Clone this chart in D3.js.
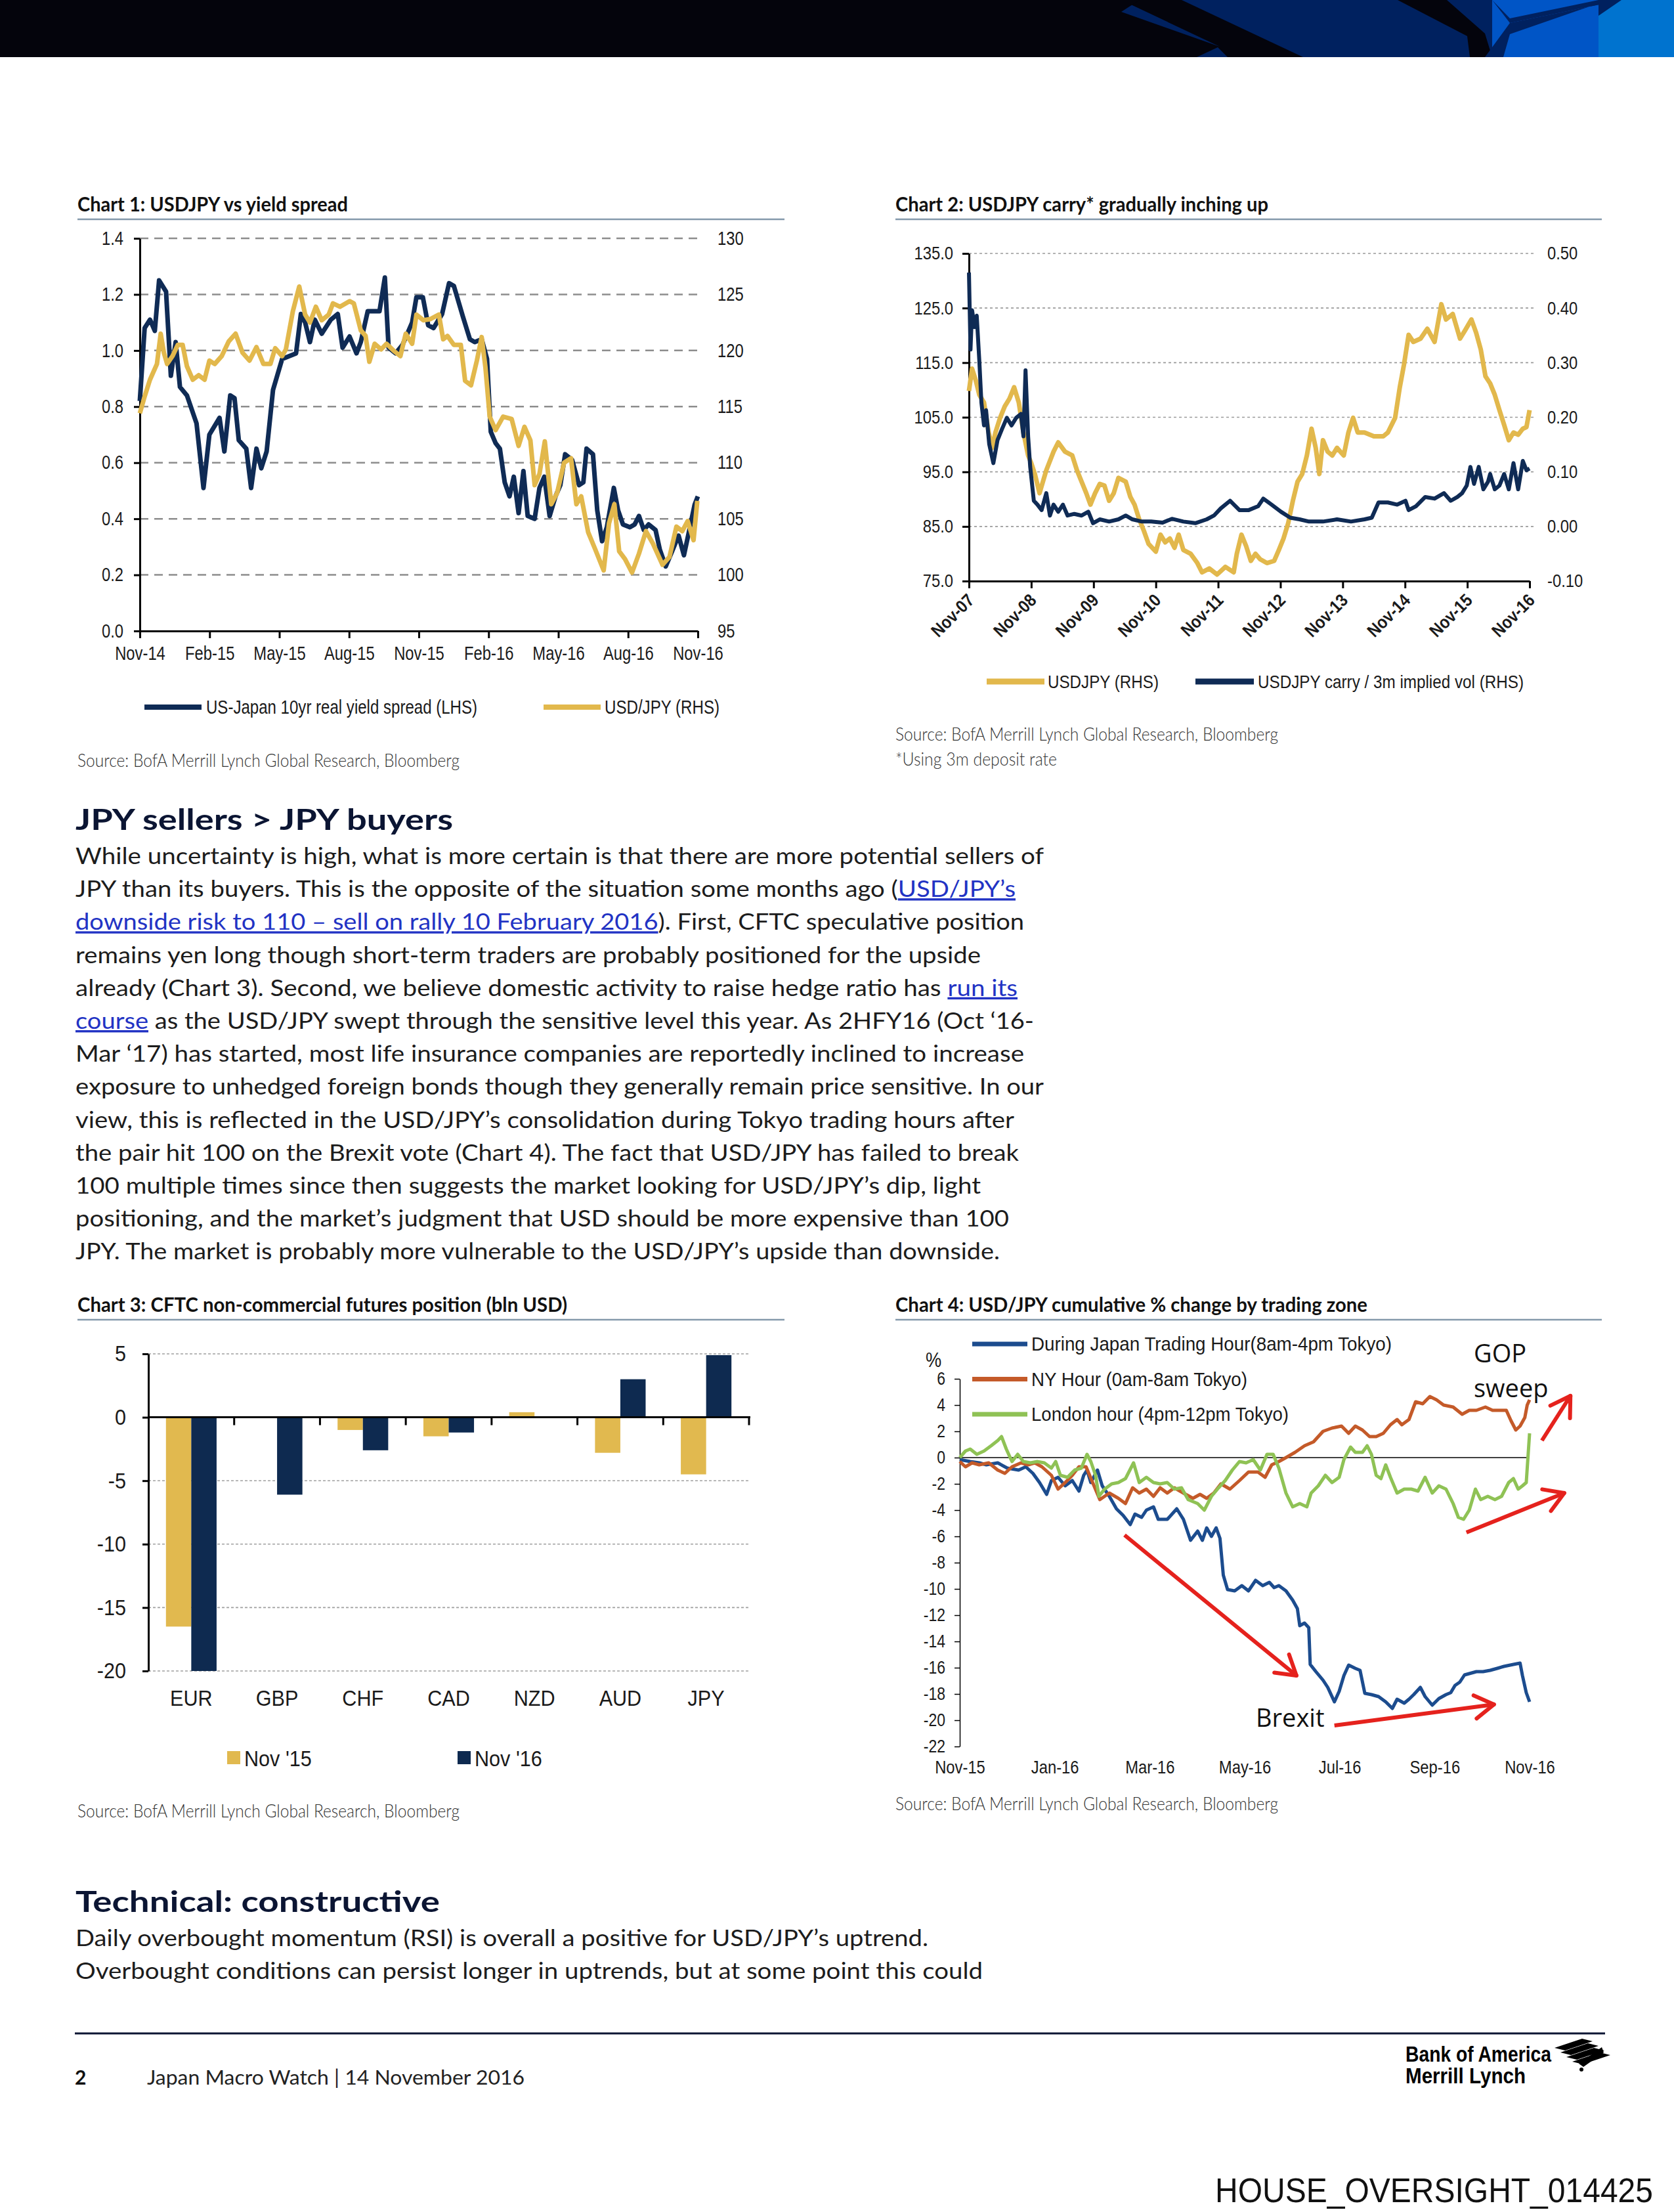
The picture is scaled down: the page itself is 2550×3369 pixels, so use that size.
<!DOCTYPE html>
<html><head><meta charset="utf-8">
<script src="https://cdn.jsdelivr.net/npm/d3@7"></script>
<style>body{margin:0;background:#fff}svg{display:block}</style>
</head><body>
<svg id="page" width="2550" height="3369"></svg>
<script>
// ---------------- DATA ----------------
// Chart 1 (weeks since Nov-14)
const c1XLabels = ["Nov-14","Feb-15","May-15","Aug-15","Nov-15","Feb-16","May-16","Aug-16","Nov-16"];
const c1LeftTicks = [0,0.2,0.4,0.6,0.8,1.0,1.2,1.4];
const c1LeftLabels = ["0.0","0.2","0.4","0.6","0.8","1.0","1.2","1.4"];
const c1RightTicks = [95,100,105,110,115,120,125,130];
const c1SpreadWeeks = [0,0.9,1.9,2.8,3.6,4.9,5.8,6.7,7.5,8.8,10.6,11.9,13.0,14.9,15.8,16.9,17.7,18.5,19.9,20.8,21.8,22.7,23.7,24.9,26.6,27.9,29.2,30.1,30.9,31.8,32.7,34.0,35.7,37.0,37.9,39.2,40.5,41.3,42.6,44.8,45.8,46.5,47.8,49.1,50.9,51.7,52.9,53.9,54.9,56.5,57.8,58.7,60.4,61.7,62.6,63.9,64.9,65.6,66.5,67.3,68.2,69.1,69.9,70.8,71.7,72.5,73.8,74.7,75.6,76.6,77.7,78.6,79.5,80.8,82.1,82.9,83.5,84.7,85.5,86.4,87.3,88.6,89.4,90.3,91.6,92.5,93.3,94.2,95.1,96.4,97.2,98.3,99.4,100.7,101.7,102.6,103.7,104.3];
const c1Spread = [0.82,1.08,1.11,1.07,1.25,1.21,0.91,1.03,0.87,0.84,0.74,0.51,0.70,0.76,0.64,0.84,0.83,0.68,0.65,0.51,0.65,0.58,0.64,0.86,0.97,0.98,0.99,1.13,1.10,1.03,1.11,1.06,1.11,1.13,1.01,1.05,0.99,1.03,1.14,1.14,1.26,1.01,0.99,1.02,1.10,1.19,1.19,1.09,1.08,1.13,1.24,1.23,1.12,1.04,1.03,1.04,0.97,0.71,0.67,0.65,0.53,0.48,0.55,0.42,0.57,0.41,0.40,0.51,0.55,0.41,0.48,0.52,0.63,0.61,0.52,0.53,0.65,0.63,0.43,0.32,0.37,0.51,0.43,0.38,0.37,0.38,0.41,0.36,0.38,0.36,0.29,0.23,0.28,0.34,0.27,0.35,0.45,0.48];
const c1FxWeeks = [0,0.9,1.9,3.2,3.9,4.5,5.1,6.1,7.1,8.0,8.8,9.9,11.0,12.1,13.0,14.0,15.3,16.6,17.9,19.2,20.5,21.8,23.1,24.4,25.3,26.6,27.3,28.6,29.8,30.9,31.8,32.9,34.0,35.3,36.1,37.4,39.2,40.0,41.3,42.2,42.9,43.9,45.1,46.1,47.4,48.7,49.7,50.9,51.7,53.0,54.3,55.9,56.7,57.5,58.7,60.0,60.8,61.9,63.0,63.9,64.6,65.4,66.5,67.9,69.5,70.8,71.9,73.0,73.8,74.7,75.7,76.9,78.0,79.3,80.6,81.6,82.5,83.8,85.1,86.7,87.7,88.7,89.6,90.7,92.0,93.3,94.6,95.9,97.7,99.0,100.3,101.4,102.4,103.5,104.2];
const c1Fx = [114.4,115.9,117.4,118.8,121.5,119.8,118.8,119.5,120.5,120.5,118.6,117.4,117.8,117.4,119.1,118.8,119.5,120.8,121.5,119.8,119.1,120.3,118.8,118.8,120.2,119.5,120.1,123.5,125.7,123.2,122.5,123.9,122.7,123.2,124.2,123.9,124.4,124.2,121.8,121.3,119.0,120.6,120.1,120.6,120.0,119.5,121.5,120.6,123.2,122.7,122.8,123.2,121.0,121.3,120.5,120.5,117.3,116.9,119.1,121.2,118.5,114.1,112.9,114.1,113.9,111.5,113.2,112.0,108.0,109.0,111.9,106.3,107.3,110.0,110.4,106.3,107.0,103.8,102.3,100.4,104.6,106.3,102.1,101.4,100.2,101.9,103.9,102.8,100.9,101.6,104.3,103.9,104.8,103.1,106.6];

// Chart 2 (months since Nov-07)
const c2XLabels = ["Nov-07","Nov-08","Nov-09","Nov-10","Nov-11","Nov-12","Nov-13","Nov-14","Nov-15","Nov-16"];
const c2LeftTicks = [75,85,95,105,115,125,135];
const c2LeftLabels = ["75.0","85.0","95.0","105.0","115.0","125.0","135.0"];
const c2RightTicks = [-0.1,0,0.1,0.2,0.3,0.4,0.5];
const c2RightLabels = ["-0.10","0.00","0.10","0.20","0.30","0.40","0.50"];
const c2FxMonths = [0,0.6,1.3,2.0,2.9,3.8,4.5,5.1,6.0,6.9,7.8,8.7,9.6,10.5,11.4,12.0,12.7,13.6,14.9,16.3,17.2,18.5,19.9,20.8,21.7,22.6,23.4,24.3,25.2,26.1,27.0,27.9,28.8,30.2,31.1,31.9,32.8,33.7,34.6,36.0,36.9,37.8,38.7,39.6,40.4,41.3,42.7,44.0,44.9,46.3,47.8,49.4,51.0,51.6,52.5,53.4,54.3,55.2,56.1,57.4,58.8,59.7,60.6,61.5,62.4,63.3,64.2,65.1,66.0,66.8,67.5,68.2,69.1,70.0,70.9,72.2,73.1,74.0,74.9,76.2,78.0,79.8,80.7,82.1,83.0,83.8,84.7,85.6,87.0,88.3,89.7,91.0,91.9,93.2,94.6,95.5,96.8,97.7,98.6,99.5,100.4,101.3,102.2,103.1,104.0,104.9,105.8,106.7,107.4,108.0];
const c2Fx = [109.8,113.9,111.8,109.1,107.7,102.2,99.4,102.2,104.9,107.0,108.4,110.5,107.7,102.2,98.0,96.6,94.6,91.1,95.3,98.7,100.4,98.7,98.0,95.3,93.2,91.1,89.0,91.1,92.8,92.5,89.7,91.1,93.9,93.2,90.4,89.0,86.3,84.2,81.8,80.4,83.5,82.1,82.8,81.1,83.5,80.7,80.0,78.3,76.6,77.3,76.2,77.6,76.6,80.0,83.5,81.4,78.7,80.0,79.0,78.3,78.7,80.7,82.8,85.6,89.7,93.2,94.6,98.0,102.9,99.4,94.6,100.8,98.7,98.0,99.4,98.0,102.2,104.9,102.2,102.2,101.5,101.5,102.2,104.9,110.5,114.6,120.1,118.8,119.4,121.2,118.8,125.7,122.9,123.9,119.4,120.8,122.9,120.5,117.4,112.5,111.2,109.1,106.3,103.6,100.8,102.2,101.8,102.9,103.2,106.3];
const c2CarryMonths = [0,0.3,0.6,1.1,1.5,2.0,2.4,2.9,3.3,3.9,4.7,5.5,6.4,7.3,8.2,9.1,10.0,10.5,10.9,11.4,11.8,12.5,13.2,14.0,14.9,15.6,16.3,17.2,18.1,19.0,20.3,21.7,23.0,23.9,25.2,27.0,28.8,30.2,31.5,33.3,35.1,37.3,39.1,41.3,43.6,45.8,47.2,48.5,50.3,52.1,53.9,55.7,56.7,58.3,60.1,61.9,63.7,65.5,68.2,70.9,73.6,76.2,77.6,78.9,80.7,82.5,84.1,84.7,86.1,87.9,89.7,91.5,92.8,94.1,95.0,95.9,96.6,97.3,98.2,99.1,100.0,100.4,101.3,102.2,103.1,104.0,104.9,105.8,106.7,107.4,108.0];
const c2Carry = [0.465,0.324,0.396,0.365,0.386,0.303,0.227,0.185,0.213,0.151,0.116,0.158,0.179,0.199,0.185,0.199,0.206,0.165,0.286,0.165,0.109,0.047,0.040,0.030,0.061,0.020,0.040,0.027,0.040,0.020,0.023,0.020,0.027,0.006,0.013,0.009,0.013,0.020,0.013,0.009,0.009,0.007,0.014,0.009,0.006,0.013,0.020,0.033,0.047,0.030,0.030,0.037,0.051,0.040,0.027,0.016,0.013,0.009,0.009,0.013,0.009,0.013,0.016,0.044,0.044,0.040,0.047,0.030,0.037,0.054,0.051,0.061,0.047,0.054,0.061,0.075,0.109,0.078,0.109,0.068,0.082,0.096,0.068,0.075,0.096,0.068,0.116,0.068,0.120,0.103,0.106];

// Chart 3
const c3Categories = ["EUR","GBP","CHF","CAD","NZD","AUD","JPY"];
const c3Series = ["Nov '15","Nov '16"];
const c3Nov15 = [-16.5,0,-1.0,-1.5,0.4,-2.8,-4.5];
const c3Nov16 = [-20.0,-6.1,-2.6,-1.2,0,3.0,4.9];
const c3Ticks = [-20,-15,-10,-5,0,5];
const c3TickLabels = ["-20","-15","-10","-5","0","5"];

// Chart 4 (months since Nov-15)
const c4XLabels = ["Nov-15","Jan-16","Mar-16","May-16","Jul-16","Sep-16","Nov-16"];
const c4Ticks = [-22,-20,-18,-16,-14,-12,-10,-8,-6,-4,-2,0,2,4,6];
const c4TickLabels = ["-22","-20","-18","-16","-14","-12","-10","-8","-6","-4","-2","0","2","4","6"];
const c4Names = ["During Japan Trading Hour(8am-4pm Tokyo)","NY Hour (0am-8am Tokyo)","London hour (4pm-12pm Tokyo)"];
const c4NameWidths = [549,329,392];
const c4JapanMonths = [0,0.22,0.41,0.56,0.80,1.00,1.24,1.39,1.54,1.68,1.83,1.93,2.07,2.22,2.37,2.51,2.61,2.68,2.76,2.90,3.00,3.15,3.30,3.44,3.59,3.69,3.83,3.93,4.08,4.18,4.37,4.57,4.71,4.86,5.01,5.11,5.20,5.30,5.40,5.48,5.55,5.64,5.79,5.94,6.08,6.23,6.38,6.52,6.62,6.72,6.87,7.01,7.11,7.16,7.26,7.35,7.38,7.50,7.65,7.75,7.89,7.99,8.09,8.19,8.33,8.43,8.53,8.67,8.82,8.97,9.11,9.21,9.36,9.46,9.56,9.70,9.80,9.95,10.09,10.24,10.34,10.43,10.53,10.63,10.73,10.88,11.02,11.17,11.32,11.46,11.66,11.80,11.85,11.93,12.00];
const c4Japan = [-0.15,-0.3,-0.4,-0.55,-0.4,-0.8,-0.95,-0.7,-1.2,-1.9,-2.8,-1.75,-1.5,-2.15,-1.75,-2.55,-1.35,-0.95,-1.9,-0.95,-2.15,-2.95,-3.9,-4.4,-5.1,-4.3,-4.55,-4.0,-3.75,-4.7,-4.7,-3.9,-4.7,-6.3,-5.6,-6.3,-5.35,-6.0,-5.35,-6.15,-8.95,-10.05,-10.15,-9.75,-10.15,-9.35,-9.75,-9.5,-9.9,-9.75,-10.15,-10.85,-11.5,-12.8,-12.6,-12.95,-15.75,-16.3,-16.95,-17.5,-18.6,-17.8,-16.6,-15.8,-16.05,-16.2,-17.95,-18.05,-18.2,-18.6,-19.1,-18.4,-18.7,-18.4,-18.05,-17.5,-18.2,-18.85,-18.35,-18.05,-17.9,-17.35,-17.1,-16.55,-16.45,-16.3,-16.3,-16.2,-16.05,-15.9,-15.75,-15.65,-16.6,-17.9,-18.6];
const c4NYMonths = [0,0.12,0.26,0.41,0.61,0.80,0.95,1.10,1.29,1.44,1.58,1.73,1.93,2.07,2.22,2.37,2.51,2.66,2.81,2.95,3.15,3.34,3.49,3.64,3.78,3.93,4.08,4.22,4.37,4.52,4.71,4.91,5.06,5.20,5.35,5.50,5.69,5.89,6.08,6.28,6.43,6.57,6.72,6.87,7.06,7.26,7.45,7.65,7.84,8.04,8.19,8.33,8.48,8.63,8.77,8.92,9.07,9.21,9.31,9.46,9.60,9.75,9.90,10.04,10.19,10.39,10.58,10.73,10.88,11.07,11.22,11.36,11.51,11.61,11.71,11.80,11.90,11.95,12.00];
const c4NY = [-0.3,-0.7,-0.4,-0.55,-0.4,-0.95,-1.2,-0.7,-0.4,-0.55,-0.4,-0.7,-1.35,-2.4,-1.9,-1.35,-0.7,-0.7,-2.0,-3.2,-2.7,-3.1,-3.5,-2.3,-2.7,-2.4,-2.95,-2.3,-2.7,-2.3,-2.7,-3.1,-2.8,-3.1,-2.7,-2.0,-2.4,-1.75,-1.1,-1.1,-1.5,-0.55,-0.3,0,0.4,0.9,1.2,2.0,2.25,2.4,1.85,2.4,2.1,1.6,1.6,1.85,2.5,2.9,2.5,2.9,4.25,4.1,4.65,4.4,4.0,3.85,3.3,3.6,3.6,3.85,3.6,3.6,3.6,2.8,2.1,2.4,3.05,4.0,4.4];
const c4LondonMonths = [0,0.12,0.22,0.36,0.51,0.66,0.80,0.88,0.98,1.10,1.22,1.34,1.49,1.63,1.78,1.93,2.02,2.12,2.27,2.42,2.56,2.68,2.76,2.86,2.93,3.05,3.20,3.34,3.49,3.66,3.78,3.93,4.08,4.22,4.37,4.52,4.67,4.81,5.01,5.15,5.30,5.45,5.59,5.74,5.89,6.03,6.18,6.33,6.47,6.60,6.72,6.87,7.01,7.16,7.31,7.40,7.55,7.70,7.84,7.99,8.09,8.23,8.33,8.48,8.58,8.67,8.77,8.87,8.97,9.07,9.21,9.36,9.51,9.65,9.80,9.95,10.09,10.24,10.39,10.50,10.61,10.73,10.86,10.97,11.12,11.27,11.41,11.56,11.66,11.76,11.85,11.93,12.00];
const c4London = [0,0.5,0.65,0.25,0.5,0.9,1.3,1.6,0.65,-0.3,0.25,-0.3,-0.4,-0.3,-0.4,-0.8,-0.3,-1.35,-1.5,-0.95,-0.8,0.25,-0.3,-1.35,-2.95,-2.4,-2.0,-1.9,-1.6,-0.4,-1.9,-1.5,-1.9,-2.0,-1.9,-2.4,-2.3,-3.2,-3.5,-4.0,-2.95,-2.3,-1.75,-0.95,-0.3,-0.4,-0.15,-0.95,0.25,0.25,-0.8,-2.7,-3.75,-3.5,-3.75,-2.7,-2.15,-1.35,-1.9,-1.5,-0.15,0.8,0.4,0.4,0.9,0.25,-1.35,-1.6,-0.55,-1.5,-2.7,-2.4,-2.4,-2.55,-1.5,-2.7,-2.15,-2.4,-3.5,-4.55,-4.7,-4.0,-2.4,-3.2,-2.95,-3.2,-2.95,-1.9,-1.6,-2.4,-2.15,-1.9,1.85];
// annotation arrows in data units [month, %] -> [month, %]
const c4Arrows = [[[3.47,-5.9],[7.09,-16.6]],[[7.89,-20.4],[11.25,-18.8]],[[10.67,-5.7],[12.73,-2.7]],[[12.26,1.3],[12.86,4.7]]];

// Text
const bodyLines = [
 [["While uncertainty is high, what is more certain is that there are more potential sellers of",0]],
 [["JPY than its buyers. This is the opposite of the situation some months ago (",0],["USD/JPY\u2019s",1]],
 [["downside risk to 110 \u2013 sell on rally 10 February 2016",1],["). First, CFTC speculative position",0]],
 [["remains yen long though short-term traders are probably positioned for the upside",0]],
 [["already (Chart 3). Second, we believe domestic activity to raise hedge ratio has ",0],["run its",1]],
 [["course",1],[" as the USD/JPY swept through the sensitive level this year. As 2HFY16 (Oct \u201816-",0]],
 [["Mar \u201817) has started, most life insurance companies are reportedly inclined to increase",0]],
 [["exposure to unhedged foreign bonds though they generally remain price sensitive. In our",0]],
 [["view, this is reflected in the USD/JPY\u2019s consolidation during Tokyo trading hours after",0]],
 [["the pair hit 100 on the Brexit vote (Chart 4). The fact that USD/JPY has failed to break",0]],
 [["100 multiple times since then suggests the market looking for USD/JPY\u2019s dip, light",0]],
 [["positioning, and the market\u2019s judgment that USD should be more expensive than 100",0]],
 [["JPY. The market is probably more vulnerable to the USD/JPY\u2019s upside than downside.",0]]
];
const bodyEnds = [1590,1547,1560,1494,1550,1575,1560,1590,1545,1552,1494,1537,1523];
const techLines = ["Daily overbought momentum (RSI) is overall a positive for USD/JPY\u2019s uptrend.","Overbought conditions can persist longer in uptrends, but at some point this could"];
const techEnds = [1414,1497];

// ---------------- DRAW ----------------
const CH = "'Liberation Sans', Arial, Helvetica, sans-serif";
const TF = "Lato, 'Open Sans', sans-serif";
const NAVY = "#0f2b55", GOLD = "#e2b84c";
const svg = d3.select("#page");
svg.append("rect").attr("width",2550).attr("height",3369).attr("fill","#fff");

function condense(sel, f){ sel.each(function(){ const L=this.getComputedTextLength(); if(L>0) d3.select(this).attr("textLength",(L*f).toFixed(1)).attr("lengthAdjust","spacingAndGlyphs"); }); return sel; }
function txt(g,x,y,s,o={}){
  const t=g.append("text").attr("x",x).attr("y",y).text(s)
   .attr("font-family",o.ff||CH).attr("font-size",o.fs||28).attr("fill",o.fill||"#1a1a1a")
   .attr("font-weight",o.fw||400).attr("text-anchor",o.anchor||"start");
  if(o.w) t.attr("textLength",o.w).attr("lengthAdjust","spacingAndGlyphs");
  else if(o.f) condense(t,o.f);
  return t;
}
function styleAxis(a, fs, f, sw, fw){
  a.select(".domain").attr("stroke","#000").attr("stroke-width",sw||3);
  a.selectAll(".tick line").attr("stroke","#000").attr("stroke-width",sw||3);
  a.selectAll("text").attr("font-family",CH).attr("font-size",fs).attr("fill","#1a1a1a").attr("font-weight",fw||400);
  condense(a.selectAll("text"), f);
}
function title(x,y,s,w,ruleEnd){
  txt(svg,x,y,s,{ff:TF,fs:30,fw:700,fill:"#111",w:w});
  svg.append("line").attr("x1",x).attr("x2",ruleEnd).attr("y1",y+12).attr("y2",y+12).attr("stroke","#8499ab").attr("stroke-width",2.5);
}
function source(x,y,s,w){ txt(svg,x,y,s,{ff:TF,fs:27,fw:300,fill:"#333",w:w}); }

// ---- Header band
const hd = svg.append("g");
hd.append("rect").attr("x",0).attr("y",0).attr("width",2550).attr("height",87).attr("fill","#04040c");
hd.append("rect").attr("x",1708).attr("y",0).attr("width",566).attr("height",87).attr("fill","#00215f");
hd.append("polygon").attr("points","1708,0 1800,0 1985,87 1870,87 1855,72 1823,87 1708,87 1708,18 1858,71 1708,0").attr("fill","#04040c");
hd.append("polygon").attr("points","1708,0 1736,0 1708,18").attr("fill","#04040c");
hd.append("polygon").attr("points","2129,0 2204,0 2262,51 2273,87 2239,87 2235,55").attr("fill","#04040c");
hd.append("rect").attr("x",2273).attr("y",0).attr("width",162).attr("height",87).attr("fill","#0055c6");
hd.append("polygon").attr("points","2273,0 2300,35 2470,0 2435,0 2300,28 2273,0").attr("fill","#00215f");
hd.append("polygon").attr("points","2262,87 2300,35 2470,0 2450,0 2300,52 2290,87").attr("fill","#00215f");
hd.append("rect").attr("x",2435).attr("y",0).attr("width",115).attr("height",87).attr("fill","#0073cf");
hd.append("polygon").attr("points","2435,0 2470,0 2435,24").attr("fill","#00215f");

// ---- Chart 1
title(118,322,"Chart 1: USDJPY vs yield spread",412,1195);
const g1 = svg.append("g");
const x1 = d3.scaleLinear().domain([0,104.3]).range([213,1063]);
const y1L = d3.scaleLinear().domain([0,1.4]).range([961,363]);
const y1R = d3.scaleLinear().domain([95,130]).range([961,363]);
g1.append("g").selectAll("line").data(c1LeftTicks.filter(d=>d>0)).join("line")
  .attr("x1",213).attr("x2",1068).attr("y1",d=>y1L(d)).attr("y2",d=>y1L(d))
  .attr("stroke","#8d8d8d").attr("stroke-width",2.5).attr("stroke-dasharray","13,9");
const a1L = g1.append("g").attr("transform","translate(213,0)")
  .call(d3.axisLeft(y1L).tickValues(c1LeftTicks).tickFormat((d,i)=>c1LeftLabels[i]).tickSize(9).tickSizeOuter(0).tickPadding(16));
styleAxis(a1L,29,0.82);
const a1R = g1.append("g").attr("transform","translate(1063,0)")
  .call(d3.axisRight(y1R).tickValues(c1RightTicks).tickSize(0).tickPadding(30));
a1R.select(".domain").remove(); styleAxis(a1R,29,0.82);
const c1XTicks = c1XLabels.map((d,i)=>i*104.3/8);
const a1B = g1.append("g").attr("transform","translate(0,961)")
  .call(d3.axisBottom(x1).tickValues(c1XTicks).tickFormat((d,i)=>c1XLabels[i]).tickSize(11).tickSizeOuter(0));
a1B.selectAll("text").attr("y",44).attr("dy",0);
styleAxis(a1B,29,0.82);
const ln1L = d3.line().x(d=>x1(d[0])).y(d=>y1L(d[1]));
const ln1R = d3.line().x(d=>x1(d[0])).y(d=>y1R(d[1]));
g1.append("path").datum(d3.zip(c1SpreadWeeks,c1Spread)).attr("d",ln1L).attr("fill","none").attr("stroke",NAVY).attr("stroke-width",7).attr("stroke-linejoin","round");
g1.append("path").datum(d3.zip(c1FxWeeks,c1Fx)).attr("d",ln1R).attr("fill","none").attr("stroke",GOLD).attr("stroke-width",7).attr("stroke-linejoin","round");
g1.append("line").attr("x1",220).attr("x2",307).attr("y1",1077).attr("y2",1077).attr("stroke",NAVY).attr("stroke-width",8);
txt(g1,314,1087,"US-Japan 10yr real yield spread (LHS)",{fs:29,w:413});
g1.append("line").attr("x1",828).attr("x2",915).attr("y1",1077).attr("y2",1077).attr("stroke",GOLD).attr("stroke-width",8);
txt(g1,921,1087,"USD/JPY (RHS)",{fs:29,w:175});
source(118,1168,"Source: BofA Merrill Lynch Global Research, Bloomberg",582);

// ---- Chart 2
title(1364,322,"Chart 2: USDJPY carry* gradually inching up",568,2440);
const g2 = svg.append("g");
const x2 = d3.scaleLinear().domain([0,108]).range([1476,2330]);
const y2L = d3.scaleLinear().domain([75,135]).range([885,386]);
const y2R = d3.scaleLinear().domain([-0.1,0.5]).range([885,386]);
g2.append("g").selectAll("line").data(c2LeftTicks.filter(d=>d>75)).join("line")
  .attr("x1",1476).attr("x2",2340).attr("y1",d=>y2L(d)).attr("y2",d=>y2L(d))
  .attr("stroke","#9b9b9b").attr("stroke-width",1.6).attr("stroke-dasharray","4,4");
const a2L = g2.append("g").attr("transform","translate(1476,0)")
  .call(d3.axisLeft(y2L).tickValues(c2LeftTicks).tickFormat((d,i)=>c2LeftLabels[i]).tickSize(10).tickSizeOuter(0).tickPadding(14));
styleAxis(a2L,28,0.85);
const a2R = g2.append("g").attr("transform","translate(2330,0)")
  .call(d3.axisRight(y2R).tickValues(c2RightTicks).tickFormat((d,i)=>c2RightLabels[i]).tickSize(0).tickPadding(27));
a2R.select(".domain").remove(); styleAxis(a2R,28,0.85);
const a2B = g2.append("g").attr("transform","translate(0,885)")
  .call(d3.axisBottom(x2).tickValues(c2XLabels.map((d,i)=>i*12)).tickFormat((d,i)=>c2XLabels[i]).tickSize(11).tickSizeOuter(0));
a2B.selectAll("text").attr("x",0).attr("y",0).attr("dy",0).attr("text-anchor","end").attr("transform","translate(9,31) rotate(-45)");
styleAxis(a2B,27,0.88,3,700);
const ln2L = d3.line().x(d=>x2(d[0])).y(d=>y2L(d[1]));
const ln2R = d3.line().x(d=>x2(d[0])).y(d=>y2R(d[1]));
g2.append("path").datum(d3.zip(c2FxMonths,c2Fx)).attr("d",ln2L).attr("fill","none").attr("stroke",GOLD).attr("stroke-width",7).attr("stroke-linejoin","round");
g2.append("path").datum(d3.zip(c2CarryMonths,c2Carry)).attr("d",ln2R).attr("fill","none").attr("stroke",NAVY).attr("stroke-width",6).attr("stroke-linejoin","round");
g2.append("line").attr("x1",1503).attr("x2",1591).attr("y1",1038).attr("y2",1038).attr("stroke",GOLD).attr("stroke-width",9);
txt(g2,1596,1048,"USDJPY (RHS)",{fs:28,w:169});
g2.append("line").attr("x1",1821).attr("x2",1910).attr("y1",1038).attr("y2",1038).attr("stroke",NAVY).attr("stroke-width",9);
txt(g2,1916,1048,"USDJPY carry / 3m implied vol (RHS)",{fs:28,w:405});
source(1364,1128,"Source: BofA Merrill Lynch Global Research, Bloomberg",583);
source(1364,1166,"*Using 3m deposit rate",246);

// ---- Text block 1
const tb = svg.append("g");
txt(tb,115,1264,"JPY sellers > JPY buyers",{ff:TF,fs:44,fw:700,fill:"#0b1533",w:575});
bodyLines.forEach((segs,i)=>{
  const t = tb.append("text").attr("x",115).attr("y",1316+i*50.2).attr("font-family",TF).attr("font-size",34).attr("fill","#1c1c1c")
    .attr("textLength",bodyEnds[i]-115).attr("lengthAdjust","spacingAndGlyphs");
  segs.forEach(s=>{ const sp=t.append("tspan").text(s[0]); if(s[1]) sp.attr("fill","#2233c4").attr("text-decoration","underline"); });
});

// ---- Chart 3
title(118,1998,"Chart 3: CFTC non-commercial futures position (bln USD)",746,1195);
const g3 = svg.append("g");
const x3 = d3.scaleBand().domain(c3Categories).range([226,1141]).paddingInner(0.41).paddingOuter(0.205);
const x3s = d3.scaleBand().domain(c3Series).range([0,x3.bandwidth()]);
const y3 = d3.scaleLinear().domain([-20,5]).range([2545,2062]);
g3.append("g").selectAll("line").data(c3Ticks.filter(d=>d!==0)).join("line")
  .attr("x1",226).attr("x2",1143).attr("y1",d=>y3(d)).attr("y2",d=>y3(d))
  .attr("stroke","#a0a0a0").attr("stroke-width",1.6).attr("stroke-dasharray","4,3");
const c3Data = c3Categories.flatMap((c,i)=>[{c,s:c3Series[0],v:c3Nov15[i]},{c,s:c3Series[1],v:c3Nov16[i]}]);
g3.append("g").selectAll("rect").data(c3Data).join("rect")
  .attr("x",d=>x3(d.c)+x3s(d.s)).attr("width",x3s.bandwidth())
  .attr("y",d=>y3(Math.max(0,d.v))).attr("height",d=>Math.abs(y3(d.v)-y3(0)))
  .attr("fill",d=>d.s===c3Series[0]?"#e1b94f":"#0e2a50");
const a3L = g3.append("g").attr("transform","translate(226,0)")
  .call(d3.axisLeft(y3).tickValues(c3Ticks).tickFormat((d,i)=>c3TickLabels[i]).tickSize(9).tickSizeOuter(0).tickPadding(25));
styleAxis(a3L,34,0.9);
g3.append("line").attr("x1",226).attr("x2",1143).attr("y1",y3(0)).attr("y2",y3(0)).attr("stroke","#000").attr("stroke-width",3);
g3.append("g").selectAll("line").data(c3Categories).join("line")
  .attr("x1",(d,i)=>226+(i+1)*x3.step()).attr("x2",(d,i)=>226+(i+1)*x3.step())
  .attr("y1",y3(0)).attr("y2",y3(0)+12).attr("stroke","#000").attr("stroke-width",3);
g3.append("g").selectAll("text").data(c3Categories).join("text")
  .attr("x",d=>x3(d)+x3.bandwidth()/2).attr("y",2598).attr("text-anchor","middle")
  .attr("font-family",CH).attr("font-size",34).attr("fill","#1a1a1a").text(d=>d)
  .call(s=>condense(s,0.9));
g3.append("rect").attr("x",346).attr("y",2667).attr("width",20).attr("height",20).attr("fill","#e1b94f");
txt(g3,372,2690,c3Series[0],{fs:34,f:0.9});
g3.append("rect").attr("x",697).attr("y",2667).attr("width",20).attr("height",20).attr("fill","#0e2a50");
txt(g3,723,2690,c3Series[1],{fs:34,f:0.9});
source(118,2768,"Source: BofA Merrill Lynch Global Research, Bloomberg",582);

// ---- Chart 4
title(1364,1998,"Chart 4: USD/JPY cumulative % change by trading zone",719,2440);
const g4 = svg.append("g");
const x4 = d3.scaleLinear().domain([0,12]).range([1462,2330]);
const y4 = d3.scaleLinear().domain([-22,6]).range([2660,2100]);
const a4L = g4.append("g").attr("transform","translate(1462,0)")
  .call(d3.axisLeft(y4).tickValues(c4Ticks).tickFormat((d,i)=>c4TickLabels[i]).tickSize(8).tickSizeOuter(0).tickPadding(14));
styleAxis(a4L,27,0.85,1.5);
txt(g4,1410,2082,"%",{fs:32,f:0.85});
g4.append("line").attr("x1",x4(0)).attr("x2",2326).attr("y1",y4(0)).attr("y2",y4(0)).attr("stroke","#000").attr("stroke-width",1.5);
const a4B = g4.append("g").attr("transform","translate(0,2660)")
  .call(d3.axisBottom(x4).tickValues(c4XLabels.map((d,i)=>i*2)).tickFormat((d,i)=>c4XLabels[i]).tickSize(0));
a4B.select(".domain").remove();
a4B.selectAll("text").attr("y",41).attr("dy",0);
styleAxis(a4B,28,0.85,1.5);
const ln4 = d3.line().x(d=>x4(d[0])).y(d=>y4(d[1]));
const c4Colors = ["#1c4c8e","#c45a29","#8fc255"];
[[c4JapanMonths,c4Japan],[c4NYMonths,c4NY],[c4LondonMonths,c4London]].forEach((s,i)=>{
  g4.append("path").datum(d3.zip(s[0],s[1])).attr("d",ln4).attr("fill","none").attr("stroke",c4Colors[i]).attr("stroke-width",5).attr("stroke-linejoin","round");
});
c4Names.forEach((n,i)=>{
  const yy = 2047 + i*53.5;
  g4.append("line").attr("x1",1481).attr("x2",1565).attr("y1",yy).attr("y2",yy).attr("stroke",c4Colors[i]).attr("stroke-width",7);
  txt(g4,1571,yy+10,n,{fs:29,w:c4NameWidths[i]});
});
// annotations
const RED="#e5221d";
c4Arrows.forEach(a=>{
  const p0=[x4(a[0][0]),y4(a[0][1])], p1=[x4(a[1][0]),y4(a[1][1])];
  const ang=Math.atan2(p1[1]-p0[1],p1[0]-p0[0]);
  g4.append("line").attr("x1",p0[0]).attr("y1",p0[1]).attr("x2",p1[0]).attr("y2",p1[1]).attr("stroke",RED).attr("stroke-width",6);
  [0.55,-0.55].forEach(o=>{
    g4.append("line").attr("x1",p1[0]).attr("y1",p1[1])
     .attr("x2",p1[0]-34*Math.cos(ang+o)).attr("y2",p1[1]-34*Math.sin(ang+o))
     .attr("stroke",RED).attr("stroke-width",6).attr("stroke-linecap","round");
  });
});
const AF="'Open Sans', Carlito, sans-serif";
txt(g4,2245,2075,"GOP",{ff:AF,fs:38,fill:"#111"});
txt(g4,2245,2128,"sweep",{ff:AF,fs:38,fill:"#111"});
txt(g4,1913,2630,"Brexit",{ff:AF,fs:38,fill:"#111"});
source(1364,2757,"Source: BofA Merrill Lynch Global Research, Bloomberg",583);

// ---- Technical block
txt(tb,115,2912,"Technical: constructive",{ff:TF,fs:44,fw:700,fill:"#0b1533",w:555});
techLines.forEach((l,i)=>txt(tb,115,2964+i*50.2,l,{ff:TF,fs:34,fill:"#1c1c1c",w:techEnds[i]-115}));

// ---- Footer
const ft = svg.append("g");
ft.append("line").attr("x1",114).attr("x2",2445).attr("y1",3097).attr("y2",3097).attr("stroke","#0c1533").attr("stroke-width",3);
txt(ft,114,3175,"2",{ff:TF,fs:30,fw:700,fill:"#111"});
txt(ft,224,3175,"Japan Macro Watch | 14 November 2016",{ff:TF,fs:30,fill:"#222",w:575});
txt(ft,2141,3140,"Bank of America",{ff:CH,fs:33,fw:700,fill:"#000",w:222});
txt(ft,2141,3173,"Merrill Lynch",{ff:CH,fs:33,fw:700,fill:"#000",w:183});
[0,1,2,3].forEach(k=>{
  const ox=2368+k*9, oy=3113+k*7;
  ft.append("polygon").attr("points",`${ox},${oy+6} ${ox+42},${oy-8} ${ox+58},${oy-4} ${ox+16},${oy+10}`).attr("fill","#000");
});
ft.append("polygon").attr("points","2405,3143 2440,3118 2443,3126 2412,3148").attr("fill","#000");
ft.append("circle").attr("cx",2409).attr("cy",3152).attr("r",3).attr("fill","#000");
txt(ft,1851,3354,"HOUSE_OVERSIGHT_014425",{fs:52,fill:"#111",w:667});
</script>
</body></html>
